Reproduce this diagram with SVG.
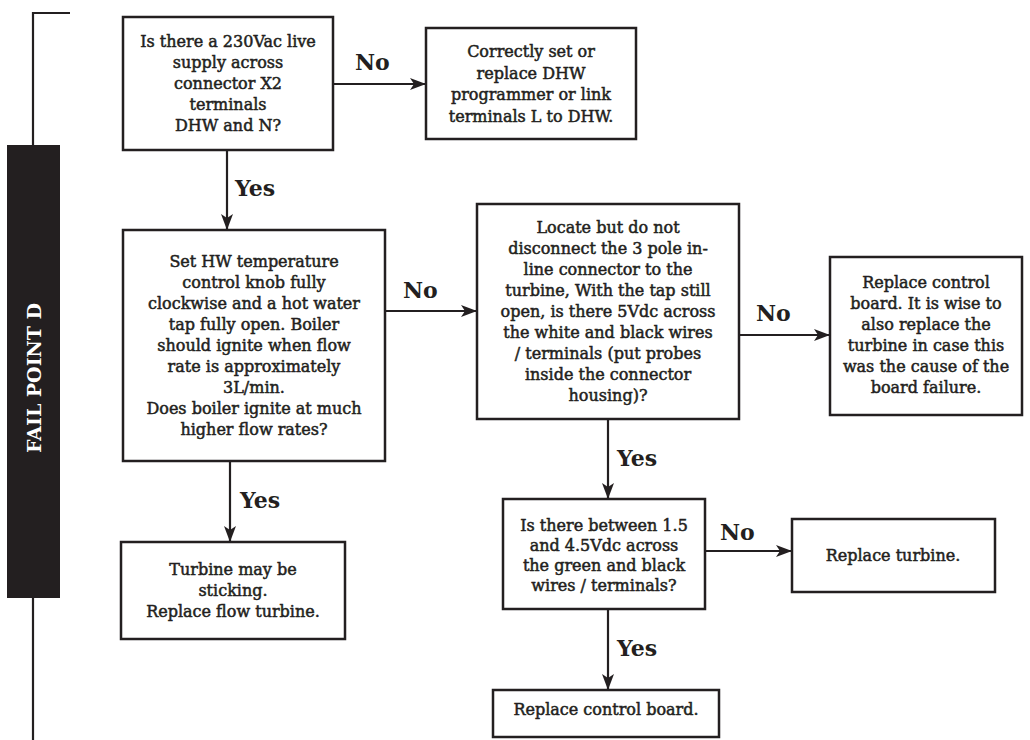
<svg xmlns="http://www.w3.org/2000/svg" width="1030" height="740" viewBox="0 0 1030 740">
<defs>
<marker id="ah" markerUnits="userSpaceOnUse" markerWidth="16" markerHeight="12" refX="15" refY="6" orient="auto">
<path d="M0,0 L16,6 L0,12 L4,6 Z" fill="#231f20"/>
</marker>
<style>
.box{fill:#fff;stroke:#231f20;stroke-width:2.5}
.t{font-family:"DejaVu Serif","Liberation Serif",serif;font-size:16px;fill:#231f20;text-anchor:middle;stroke:#231f20;stroke-width:0.5}
.lbl{font-family:"DejaVu Serif","Liberation Serif",serif;font-size:22px;font-weight:bold;fill:#231f20}
.c{fill:none;stroke:#231f20;stroke-width:2.2}
</style>
</defs>
<rect width="1030" height="740" fill="#fff"/>
<g id="failpoint">
<path class="c" d="M70,13 H33 V145 M33,598 V740"/>
<rect x="7" y="145" width="53" height="453" fill="#231f20"/>
<text transform="translate(41,378) rotate(-90)" text-anchor="middle" font-family="DejaVu Serif, serif" font-weight="bold" font-size="19" fill="#fff" textLength="150" lengthAdjust="spacingAndGlyphs">FAIL POINT D</text>
</g>
<g id="connectors">
<line class="c" x1="333" y1="84" x2="425" y2="84" marker-end="url(#ah)"/>
<line class="c" x1="227" y1="150" x2="227" y2="229" marker-end="url(#ah)"/>
<line class="c" x1="385" y1="311" x2="476" y2="311" marker-end="url(#ah)"/>
<line class="c" x1="739" y1="335" x2="829" y2="335" marker-end="url(#ah)"/>
<line class="c" x1="608" y1="419" x2="608" y2="498" marker-end="url(#ah)"/>
<line class="c" x1="705" y1="551" x2="791" y2="551" marker-end="url(#ah)"/>
<line class="c" x1="608" y1="609" x2="608" y2="689" marker-end="url(#ah)"/>
<line class="c" x1="230" y1="461" x2="230" y2="541" marker-end="url(#ah)"/>
<text class="lbl" x="355" y="70">No</text>
<text class="lbl" x="235" y="196">Yes</text>
<text class="lbl" x="403" y="298">No</text>
<text class="lbl" x="756" y="321">No</text>
<text class="lbl" x="617" y="466">Yes</text>
<text class="lbl" x="720" y="540">No</text>
<text class="lbl" x="617" y="656">Yes</text>
<text class="lbl" x="240" y="508">Yes</text>
</g>
<g id="n1">
<rect class="box" x="123" y="17" width="210" height="133"/>
<text class="t"><tspan x="228" y="47">Is there a 230Vac live</tspan><tspan x="228" y="68">supply across</tspan><tspan x="228" y="89">connector X2</tspan><tspan x="228" y="110">terminals</tspan><tspan x="228" y="131">DHW and N?</tspan></text>
</g>
<g id="n2">
<rect class="box" x="426" y="28" width="210" height="111"/>
<text class="t"><tspan x="531" y="57">Correctly set or</tspan><tspan x="531" y="79">replace DHW</tspan><tspan x="531" y="100">programmer or link</tspan><tspan x="531" y="122">terminals L to DHW.</tspan></text>
</g>
<g id="n3">
<rect class="box" x="123" y="230" width="262" height="231"/>
<text class="t"><tspan x="254" y="267">Set HW temperature</tspan><tspan x="254" y="288">control knob fully</tspan><tspan x="254" y="309">clockwise and a hot water</tspan><tspan x="254" y="330">tap fully open. Boiler</tspan><tspan x="254" y="351">should ignite when flow</tspan><tspan x="254" y="372">rate is approximately</tspan><tspan x="254" y="393">3L/min.</tspan><tspan x="254" y="414">Does boiler ignite at much</tspan><tspan x="254" y="435">higher flow rates?</tspan></text>
</g>
<g id="n4">
<rect class="box" x="477" y="204" width="262" height="215"/>
<text class="t"><tspan x="608" y="233">Locate but do not</tspan><tspan x="608" y="254">disconnect the 3 pole in-</tspan><tspan x="608" y="275">line connector to the</tspan><tspan x="608" y="296">turbine, With the tap still</tspan><tspan x="608" y="317">open, is there 5Vdc across</tspan><tspan x="608" y="338">the white and black  wires</tspan><tspan x="608" y="359">/ terminals (put probes</tspan><tspan x="608" y="380">inside the connector</tspan><tspan x="608" y="401">housing)?</tspan></text>
</g>
<g id="n5">
<rect class="box" x="830" y="257" width="192" height="158"/>
<text class="t"><tspan x="926" y="288">Replace control</tspan><tspan x="926" y="309">board. It is wise to</tspan><tspan x="926" y="330">also replace the</tspan><tspan x="926" y="351">turbine in case this</tspan><tspan x="926" y="372">was the cause of the</tspan><tspan x="926" y="393">board failure.</tspan></text>
</g>
<g id="n6">
<rect class="box" x="503" y="499" width="202" height="110"/>
<text class="t"><tspan x="604" y="531">Is there between 1.5</tspan><tspan x="604" y="551">and 4.5Vdc across</tspan><tspan x="604" y="571">the green and black</tspan><tspan x="604" y="591">wires / terminals?</tspan></text>
</g>
<g id="n7">
<rect class="box" x="792" y="519" width="203" height="73"/>
<text class="t" x="893" y="561">Replace turbine.</text>
</g>
<g id="n8">
<rect class="box" x="493" y="690" width="226" height="47"/>
<text class="t" x="606" y="715">Replace control board.</text>
</g>
<g id="n9">
<rect class="box" x="121" y="542" width="224" height="97"/>
<text class="t"><tspan x="233" y="575">Turbine may be</tspan><tspan x="233" y="596">sticking.</tspan><tspan x="233" y="617">Replace flow turbine.</tspan></text>
</g>
</svg>
